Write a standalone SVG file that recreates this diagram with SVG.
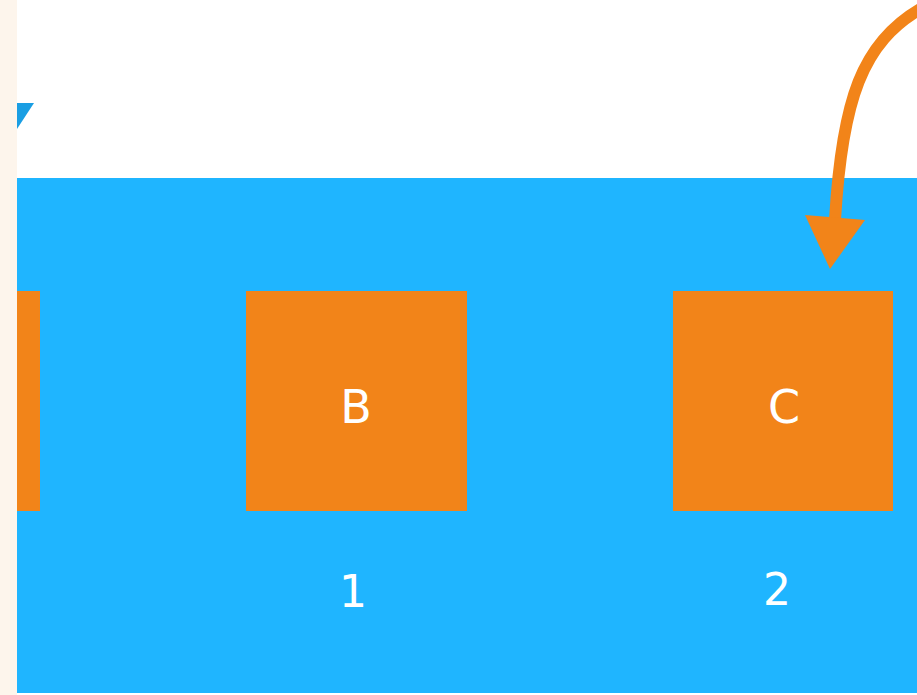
<svg xmlns="http://www.w3.org/2000/svg" width="917" height="695" viewBox="0 0 917 695">
<style>
.box{fill:#f28419}
.lbl{font-family:"DejaVu Sans",sans-serif;fill:#ffffff;text-anchor:middle}
</style>
<rect x="0" y="0" width="917" height="695" fill="#ffffff"/>
<rect x="0" y="0" width="17" height="695" fill="#fdf5ec"/>
<rect x="17" y="178" width="900" height="515" fill="#1fb5ff"/>
<polygon points="17,103 34,103 17,129" fill="#1a9ee3"/>
<g id="nodeA"><rect class="box" x="17" y="291" width="23" height="220"/></g>
<g id="nodeB"><rect class="box" x="246" y="291" width="221" height="220"/><text class="lbl" x="356" y="423" font-size="46">B</text></g>
<g id="nodeC"><rect class="box" x="673" y="291" width="220" height="220"/><text class="lbl" x="784" y="423" font-size="46">C</text></g>
<g id="index1"><text class="lbl" x="353" y="607" font-size="44">1</text></g>
<g id="index2"><text class="lbl" x="777" y="605" font-size="44">2</text></g>
<g id="connectors">
<path d="M922,8 C862,42 842,100 835,220" fill="none" stroke="#f28419" stroke-width="12"/>
<polygon points="805,215 865,220 830,269" fill="#f28419"/>
</g>
</svg>
